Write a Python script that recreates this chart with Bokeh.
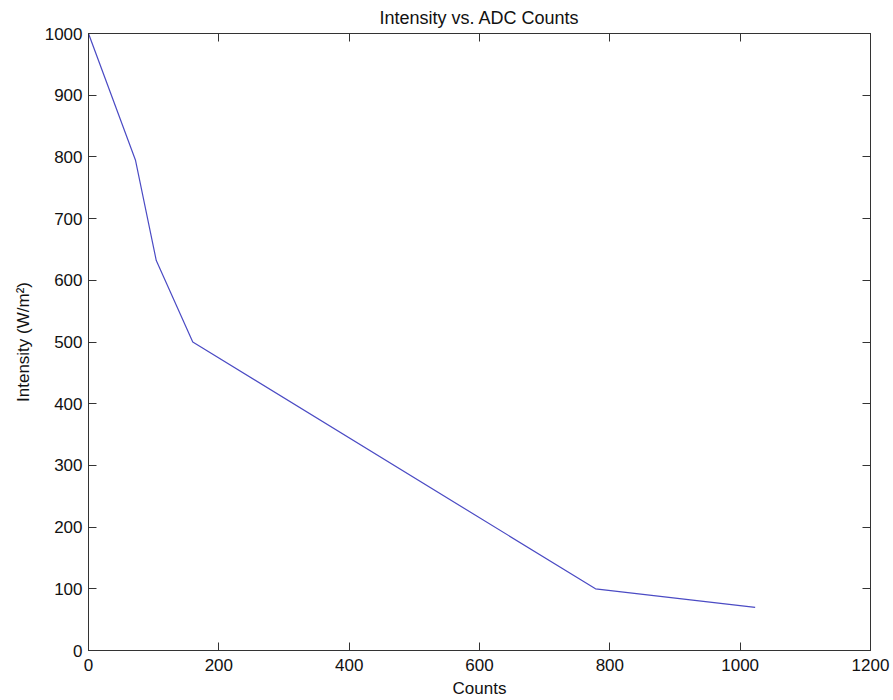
from bokeh.plotting import figure
from bokeh.models import LinearAxis, Range1d, FixedTicker, CustomJSTickFormatter
from bokeh.embed import file_html
from bokeh.resources import INLINE

counts = [0, 72, 104, 160, 778, 1023]
intensity = [1000, 795, 632, 500, 100, 70]
x_ticks = [0, 200, 400, 600, 800, 1000, 1200]
y_ticks = [0, 100, 200, 300, 400, 500, 600, 700, 800, 900, 1000]

FONT = "Liberation Sans"
AX = "#333333"

p = figure(width=893, height=700, output_backend="svg", toolbar_location=None,
           x_range=Range1d(0, 1200), y_range=Range1d(0, 1000),
           min_border_left=88, min_border_right=23, min_border_top=33, min_border_bottom=50,
           x_axis_location=None, y_axis_location=None)
p.title.text = "Intensity vs. ADC Counts"
p.title.align = "center"
p.title.text_font = FONT
p.title.text_font_size = "18px"
p.title.text_font_style = "normal"
p.title.text_color = "#111111"
p.title.standoff = 11
p.xgrid.visible = False
p.ygrid.visible = False
p.outline_line_color = AX
p.outline_line_width = 1

def mk(loc, ticks, label=None, lab_standoff=6, axlab_standoff=4):
    ax = LinearAxis(ticker=FixedTicker(ticks=ticks))
    ax.major_tick_in = 8
    ax.major_tick_out = 0
    ax.minor_tick_in = 0
    ax.minor_tick_out = 0
    ax.axis_line_color = AX
    ax.major_tick_line_color = AX
    ax.major_label_text_font = FONT
    ax.major_label_text_font_size = "17px"
    ax.major_label_text_color = "#111111"
    if label is None:
        ax.formatter = CustomJSTickFormatter(code="return ''")
        ax.major_label_standoff = 0
    else:
        ax.axis_label = label
        ax.axis_label_text_font = FONT
        ax.axis_label_text_font_size = "17px"
        ax.axis_label_text_font_style = "normal"
        ax.axis_label_text_color = "#111111"
        ax.major_label_standoff = lab_standoff
        ax.axis_label_standoff = axlab_standoff
    p.add_layout(ax, loc)
    return ax

mk("below", x_ticks, "Counts", lab_standoff=8, axlab_standoff=5)
mk("left", y_ticks, "Intensity (W/m²)", lab_standoff=6, axlab_standoff=9)
mk("above", x_ticks)
mk("right", y_ticks)

p.line(counts, intensity, line_color="#4b4bc4", line_width=1.2)

open("out.html", "w").write(file_html(p, INLINE))
